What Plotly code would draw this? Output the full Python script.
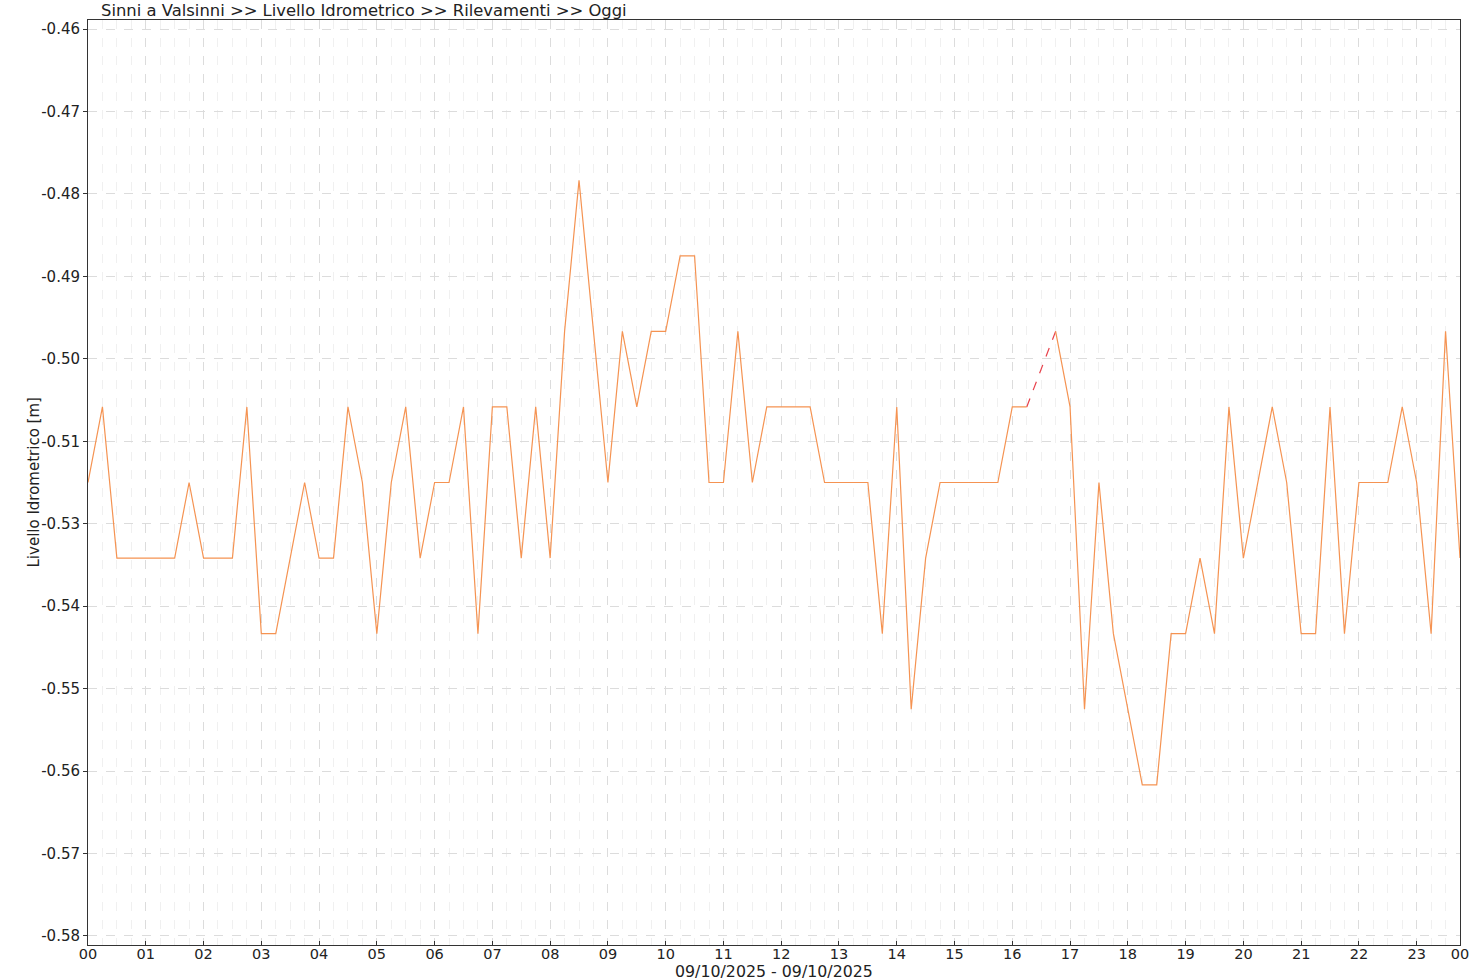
import pandas as pd
import numpy as np
import plotly.graph_objects as go

# ---- data ----
title_text = "Sinni a Valsinni >> Livello Idrometrico >> Rilevamenti >> Oggi"
y_title = "Livello Idrometrico [m]"
x_title = "09/10/2025 - 09/10/2025"
start_time = "2025-10-09 00:00"
step = "15min"

level = [
    -0.52, -0.51, -0.53, -0.53, -0.53, -0.53, -0.53, -0.52,   # 00:00-01:45
    -0.53, -0.53, -0.53, -0.51, -0.54, -0.54, -0.53, -0.52,   # 02:00-03:45
    -0.53, -0.53, -0.51, -0.52, -0.54, -0.52, -0.51, -0.53,   # 04:00-05:45
    -0.52, -0.52, -0.51, -0.54, -0.51, -0.51, -0.53, -0.51,   # 06:00-07:45
    -0.53, -0.50, -0.48, -0.50, -0.52, -0.50, -0.51, -0.50,   # 08:00-09:45
    -0.50, -0.49, -0.49, -0.52, -0.52, -0.50, -0.52, -0.51,   # 10:00-11:45
    -0.51, -0.51, -0.51, -0.52, -0.52, -0.52, -0.52, -0.54,   # 12:00-13:45
    -0.51, -0.55, -0.53, -0.52, -0.52, -0.52, -0.52, -0.52,   # 14:00-15:45
    -0.51, -0.51, None, -0.50, -0.51, -0.55, -0.52, -0.54,    # 16:00-17:45
    -0.55, -0.56, -0.56, -0.54, -0.54, -0.53, -0.54, -0.51,   # 18:00-19:45
    -0.53, -0.52, -0.51, -0.52, -0.54, -0.54, -0.51, -0.54,   # 20:00-21:45
    -0.52, -0.52, -0.52, -0.51, -0.52, -0.54, -0.50, -0.53,   # 22:00-23:45
]

x_tick_labels = ["00", "01", "02", "03", "04", "05", "06", "07", "08", "09", "10", "11",
                 "12", "13", "14", "15", "16", "17", "18", "19", "20", "21", "22", "23", "00"]
y_tick_labels = ["-0.46", "-0.47", "-0.48", "-0.49", "-0.50", "-0.51",
                 "-0.53", "-0.54", "-0.55", "-0.56", "-0.57", "-0.58"]
y_top, y_bottom = -0.46, -0.58

# ---- derived ----
times = pd.date_range(start_time, periods=len(level), freq=step)
x_tick_vals = list(pd.date_range(start_time, periods=24, freq="1h")) + [times[-1]]
y_tick_vals = list(np.linspace(y_top, y_bottom, len(y_tick_labels)))

# bridge segments over missing values (dashed red)
gap_x, gap_y = [], []
for i, v in enumerate(level):
    if v is None and (i == 0 or level[i - 1] is not None):
        j0 = i - 1
        j1 = i + 1
        while j1 < len(level) and level[j1] is None:
            j1 += 1
        if j0 >= 0 and j1 < len(level):
            gap_x += [times[j0], times[j1], None]
            gap_y += [level[j0], level[j1], None]

FONT = "DejaVu Sans"
W, H = 1480, 980
fig = go.Figure()
fig.add_trace(go.Scatter(x=gap_x, y=gap_y, mode="lines",
                         line=dict(color="#E8414B", width=1.2, dash="dash"),
                         connectgaps=False, hoverinfo="skip", showlegend=False))
fig.add_trace(go.Scatter(x=times, y=level, mode="lines",
                         line=dict(color="#F59352", width=1.2),
                         connectgaps=False, showlegend=False))

pad = 0.0012
fig.update_layout(
    width=W, height=H,
    margin=dict(l=88, r=20, t=20, b=35),
    paper_bgcolor="white", plot_bgcolor="white",
    font=dict(family=FONT, size=15, color="#222222"),
    title=dict(text=title_text, x=101 / W, xanchor="left", xref="container",
               y=1 - 10 / H, yanchor="middle", yref="container",
               font=dict(family=FONT, size=16.4, color="#222222")),
    xaxis=dict(
        range=[times[0], times[-1]],
        tickmode="array", tickvals=x_tick_vals, ticktext=x_tick_labels,
        ticks="inside", ticklen=4, tickcolor="#333333",
        ticklabelstandoff=-4,
        showline=True, linecolor="#333333", linewidth=1, mirror=True,
        showgrid=True, gridcolor="#dcdcdc", griddash="dash", gridwidth=1,
        minor=dict(dtick=15 * 60 * 1000, tick0=start_time, showgrid=True,
                   gridcolor="#f0f0f0", griddash="dash", gridwidth=1, ticks=""),
        zeroline=False, tickfont=dict(size=14.5),
    ),
    yaxis=dict(
        range=[y_bottom - pad, y_top + pad],
        tickmode="array", tickvals=y_tick_vals, ticktext=y_tick_labels,
        ticks="outside", ticklen=4, tickcolor="#333333",
        showline=True, linecolor="#333333", linewidth=1, mirror=True,
        showgrid=True, gridcolor="#dcdcdc", griddash="dash", gridwidth=1,
        zeroline=False, tickfont=dict(size=15),
    ),
    annotations=[
        dict(text=x_title, xref="paper", yref="paper", x=0.5, y=0,
             xanchor="center", yanchor="middle", yshift=-26, showarrow=False,
             font=dict(family=FONT, size=15.8, color="#222222")),
        dict(text=y_title, xref="paper", yref="paper", x=0, y=0.5,
             xanchor="center", yanchor="middle", xshift=-55, textangle=-90,
             showarrow=False, font=dict(family=FONT, size=15, color="#222222")),
    ],
)

# pin the figure to the top-left corner of the page (no body margin)
post = ("var d=document.getElementById('{plot_id}');"
        "document.body.style.margin='0';"
        "d.style.position='fixed';d.style.left='0px';d.style.top='0px';")
fig.write_html("out.html", post_script=post, config={"displayModeBar": False})
